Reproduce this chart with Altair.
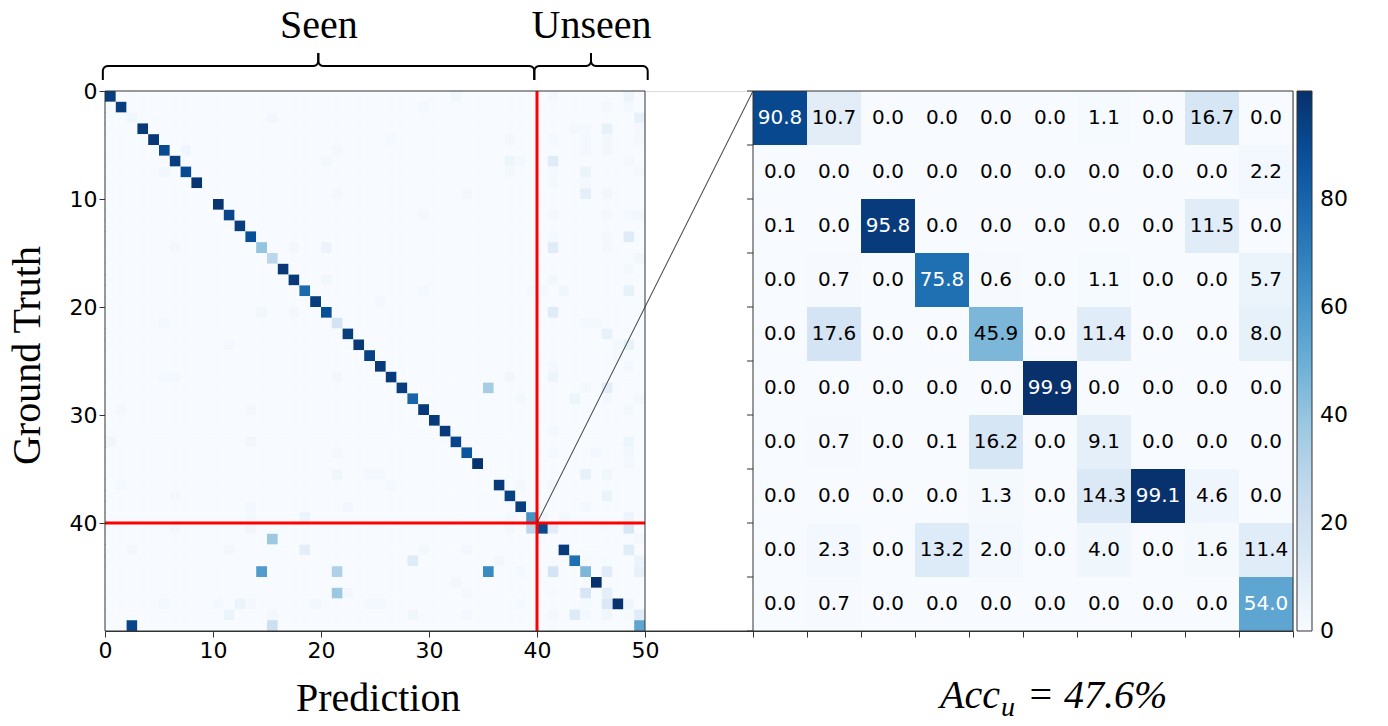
import altair as alt
import numpy as np
import pandas as pd

# ---------------- data ----------------
# diagonal of the 50x50 confusion matrix for the seen classes (rows 0-39)
diag_seen = [95, 95, 4, 97, 97, 90, 95, 90, 98, 0,
             98, 92, 95, 88, 40, 28, 97, 96, 78, 95,
             88, 18, 95, 97, 93, 96, 96, 95, 80, 96,
             96, 96, 92, 86, 99, 0, 96, 93, 95, 62]

# off-diagonal (row, col, value) entries of the 50x50 matrix (outside the zoomed block)
off_rows = [0, 0, 0, 1, 1, 1, 2, 2, 3, 3, 3, 3, 4, 4, 4, 4, 4, 4, 5, 5, 5, 5,
            6, 6, 6, 6, 6, 7, 7, 7, 7, 7, 8, 8, 9, 9, 9, 9, 11, 11, 11, 11, 11,
            13, 13, 13, 14, 14, 14, 14, 14, 15, 16, 17, 17, 18, 18, 18, 18, 18,
            19, 20, 20, 20, 21, 21, 21, 22, 23, 23, 23, 24, 25, 25,
            26, 26, 26, 26, 26, 27, 27, 27, 28, 28, 28, 28, 29, 29, 29, 31,
            32, 32, 32, 33, 33, 33, 33, 34, 35, 35, 35, 35, 35, 36, 36, 36, 36,
            37, 37, 38, 38, 38, 39, 39, 39, 39, 39, 39,
            40, 40, 40, 40, 41, 42, 42, 42, 42, 42, 43, 43, 44, 44, 44, 44, 45,
            46, 46, 46, 47, 47, 47, 47, 47, 47, 47, 47, 48, 48, 48, 48, 49, 49]
off_cols = [32, 41, 48, 29, 46, 48, 15, 49, 43, 44, 46, 49, 26, 37, 41, 44, 46, 49, 7, 21, 44, 46,
            20, 37, 38, 41, 48, 5, 37, 41, 44, 49, 41, 44, 21, 33, 44, 46, 29, 41, 46, 48, 49,
            41, 46, 48, 6, 17, 20, 41, 46, 49, 48, 20, 41, 29, 39, 40, 42, 48,
            25, 14, 17, 41, 5, 44, 45, 46, 11, 47, 48, 47, 41, 48,
            5, 6, 21, 37, 41, 35, 44, 46, 38, 43, 46, 49, 1, 13, 48, 41,
            0, 13, 48, 21, 41, 45, 48, 48, 21, 24, 25, 44, 46, 1, 26, 38, 41,
            6, 46, 13, 22, 44, 13, 18, 37, 40, 42, 48,
            6, 13, 37, 39, 15, 2, 11, 18, 29, 33, 28, 36, 14, 21, 35, 38, 32,
            21, 22, 33, 5, 10, 12, 13, 19, 24, 25, 38, 11, 15, 28, 33, 2, 15]
off_vals = [3, 2, 5, 2, 2, 2, 3, 8, 2, 2, 8, 2, 2, 2, 2, 2, 3, 2, 4, 2, 2, 3,
            2, 5, 2, 12, 2, 3, 2, 2, 6, 2, 2, 2, 2, 2, 9, 3, 2, 2, 2, 2, 3,
            2, 2, 12, 2, 2, 6, 12, 2, 3, 2, 3, 3, 2, 2, 2, 4, 8,
            2, 3, 2, 12, 2, 2, 2, 8, 2, 2, 8, 2, 2, 2,
            2, 2, 3, 3, 5, 35, 2, 10, 2, 5, 2, 2, 2, 2, 2, 2,
            4, 3, 5, 2, 2, 2, 3, 2, 4, 2, 2, 8, 4, 2, 2, 2, 3,
            2, 6, 2, 3, 2, 2, 6, 2, 4, 2, 5,
            2, 3, 2, 28, 38, 2, 2, 10, 2, 2, 12, 3, 58, 32, 65, 2, 3,
            38, 3, 2, 2, 2, 6, 2, 3, 2, 2, 2, 6, 2, 4, 2, 92, 22]

# zoomed block: unseen classes 40-49 (rows = ground truth, cols = prediction)
zoom_matrix = [
    [90.8, 10.7, 0.0, 0.0, 0.0, 0.0, 1.1, 0.0, 16.7, 0.0],
    [0.0, 0.0, 0.0, 0.0, 0.0, 0.0, 0.0, 0.0, 0.0, 2.2],
    [0.1, 0.0, 95.8, 0.0, 0.0, 0.0, 0.0, 0.0, 11.5, 0.0],
    [0.0, 0.7, 0.0, 75.8, 0.6, 0.0, 1.1, 0.0, 0.0, 5.7],
    [0.0, 17.6, 0.0, 0.0, 45.9, 0.0, 11.4, 0.0, 0.0, 8.0],
    [0.0, 0.0, 0.0, 0.0, 0.0, 99.9, 0.0, 0.0, 0.0, 0.0],
    [0.0, 0.7, 0.0, 0.1, 16.2, 0.0, 9.1, 0.0, 0.0, 0.0],
    [0.0, 0.0, 0.0, 0.0, 1.3, 0.0, 14.3, 99.1, 4.6, 0.0],
    [0.0, 2.3, 0.0, 13.2, 2.0, 0.0, 4.0, 0.0, 1.6, 11.4],
    [0.0, 0.7, 0.0, 0.0, 0.0, 0.0, 0.0, 0.0, 0.0, 54.0],
]

x_ticks_main = [0, 10, 20, 30, 40, 50]
y_ticks_main = [0, 10, 20, 30, 40]
cbar_ticks = [0, 20, 40, 60, 80]
group_labels = ["Seen", "Unseen"]
acc_text = "= 47.6%"

VMIN = -0.01
VMAX = 99.9
BLUES = ["#f7fbff", "#deebf7", "#c6dbef", "#9ecae1", "#6baed6",
         "#4292c6", "#2171b5", "#08519c", "#08306b"]

# ---------------- build tables ----------------
N = 50
N_SEEN = 40
M = np.zeros((N, N))
for i, v in enumerate(diag_seen):
    M[i, i] = v
for r, c, v in zip(off_rows, off_cols, off_vals):
    M[r, c] = v
M[N_SEEN:, N_SEEN:] = np.array(zoom_matrix)

left = pd.DataFrame([{"row": r, "col": c, "value": float(M[r, c])}
                     for r in range(N) for c in range(N)])
left["x"] = left["col"]
left["x2"] = left["col"] + 1
left["y"] = left["row"]
left["y2"] = left["row"] + 1

# zoom panel placed to the right, 10 units after the main matrix, 5 units per cell
ZX0 = 60
ZS = 5
right = pd.DataFrame([{"r": r, "c": c, "value": zoom_matrix[r][c]}
                      for r in range(10) for c in range(10)])
right["x"] = ZX0 + ZS * right["c"]
right["x2"] = right["x"] + ZS
right["y"] = ZS * right["r"]
right["y2"] = right["y"] + ZS
right["tx"] = right["x"] + ZS / 2
right["ty"] = right["y"] + ZS / 2

PX = 1 / 10.8  # data units per pixel

# ---------------- scales / axes ----------------
xs = alt.Scale(domain=[0, 110], nice=False, zero=False)
ys = alt.Scale(domain=[0, 50], nice=False, zero=False, reverse=True)
xaxis = alt.Axis(values=x_ticks_main + [ZX0 + ZS * k for k in range(11)],
                 labelExpr="datum.value <= 50 ? datum.label : ''",
                 title=None, grid=False, labelFlush=False, labelOverlap=False,
                 labelFont="DejaVu Sans", labelFontSize=22, labelColor="black",
                 tickSize=6, labelPadding=3, tickColor="#333", domainColor="#333")
yaxis = alt.Axis(values=y_ticks_main, title=None, grid=False, labelFlush=False,
                 labelOverlap=False, labelFont="DejaVu Sans", labelFontSize=22,
                 labelColor="black", tickSize=6, labelPadding=2,
                 tickColor="#333", domainColor="#333")


def X(f):
    return alt.X(f, type="quantitative", scale=xs, axis=xaxis)


def Y(f):
    return alt.Y(f, type="quantitative", scale=ys, axis=yaxis)


color_scale = alt.Scale(domain=[VMIN + (VMAX - VMIN) * i / 8 for i in range(9)],
                        range=BLUES, interpolate="rgb")
legend = alt.Legend(values=cbar_ticks, title=None, orient="right", offset=4,
                    gradientLength=540, gradientThickness=15, padding=0,
                    labelFont="DejaVu Sans", labelFontSize=22, labelColor="black",
                    labelOffset=8, labelBaseline="middle",
                    gradientStrokeColor="#333", gradientStrokeWidth=1)
color = alt.Color("value:Q", scale=color_scale, legend=legend)

# ---------------- layers ----------------
left_cells = alt.Chart(left).mark_rect().encode(
    x=X("x"), x2="x2", y=Y("y"), y2="y2", color=color)

right_cells = alt.Chart(right).mark_rect().encode(
    x=X("x"), x2="x2", y=Y("y"), y2="y2", color=color)

right_text = alt.Chart(right).mark_text(
    font="DejaVu Sans", fontSize=20, baseline="middle", align="center").encode(
    x=X("tx"), y=Y("ty"), text=alt.Text("value:Q", format=".1f"),
    color=alt.condition(alt.datum.value > 50, alt.value("white"), alt.value("black")))

frames = pd.DataFrame({"x": [0, ZX0], "x2": [N, ZX0 + 10 * ZS], "y": [0, 0], "y2": [N, 10 * ZS]})
frame_layer = alt.Chart(frames).mark_rect(fillOpacity=0, stroke="#333", strokeWidth=1).encode(
    x=X("x"), x2="x2", y=Y("y"), y2="y2")

red = pd.DataFrame({"x": [N_SEEN, 0], "x2": [N_SEEN, N], "y": [0, N_SEEN], "y2": [N, N_SEEN]})
red_layer = alt.Chart(red).mark_rule(color="#ff0000", strokeWidth=3).encode(
    x=X("x"), x2="x2", y=Y("y"), y2="y2")

conn = pd.DataFrame({"x": [N_SEEN, N], "x2": [ZX0, ZX0], "y": [N_SEEN, N], "y2": [0, 10 * ZS]})
conn_layer = alt.Chart(conn).mark_rule(color="#333", strokeWidth=1, clip=False).encode(
    x=X("x"), x2="x2", y=Y("y"), y2="y2")

lt = pd.DataFrame({"y": [ZS * k for k in range(11)]})
lt["x"] = ZX0 - 6 * PX
lt["x2"] = ZX0
ltick_layer = alt.Chart(lt).mark_rule(color="#333", strokeWidth=1, clip=False).encode(
    x=X("x"), x2="x2", y=Y("y"))


# curly braces above the main matrix
def arc(cx, cy, r, a0, a1, n=7):
    t = np.radians(np.linspace(a0, a1, n))
    return [(cx + r * np.cos(a), cy + r * np.sin(a)) for a in t]


def brace(xa, xb, xm, name):
    r = 5 * PX
    ye, yb, yt = -11 * PX, -25 * PX, -38 * PX
    left_half = [(xa, ye)] + arc(xa + r, yb + r, r, 180, 270) + \
        arc(xm - r, yb - r, r, 90, 0) + [(xm, yt)]
    right_half = [(xm, yt)] + arc(xm + r, yb - r, r, 180, 90) + \
        arc(xb - r, yb + r, r, 270, 360) + [(xb, ye)]
    rows = []
    for h, pts in (("a", left_half), ("b", right_half)):
        for i, (px_, py_) in enumerate(pts):
            rows.append({"g": name + h, "i": i, "x": px_, "y": py_})
    return rows


br = pd.DataFrame(brace(-0.2, 39.75, 19.75, "seen") + brace(39.75, 50.25, 45.0, "unseen"))
brace_layer = alt.Chart(br).mark_line(color="black", strokeWidth=2, clip=False).encode(
    x=X("x"), y=Y("y"), detail="g:N", order="i:Q")

ann = pd.DataFrame({"text": group_labels + ["Prediction"],
                    "x": [19.8, 45.05, 25.3], "y": [-4.91, -4.91, 57.4]})
ann_layer = alt.Chart(ann).mark_text(
    font="Liberation Serif", fontSize=40, baseline="alphabetic", align="center",
    color="black", clip=False).encode(x=X("x"), y=Y("y"), text="text:N")

gt = pd.DataFrame({"text": ["Ground Truth"], "x": [-7.13], "y": [24.5]})
gt_layer = alt.Chart(gt).mark_text(
    font="Liberation Serif", fontSize=40, baseline="middle", align="center",
    angle=270, color="black", clip=False).encode(x=X("x"), y=Y("y"), text="text:N")

acc = pd.DataFrame({"text": ["Acc", acc_text], "x": [77.31, 85.37], "y": [57.13, 57.13]})
acc_layer = alt.Chart(acc).mark_text(
    font="Liberation Serif", fontSize=40, fontStyle="italic", baseline="alphabetic",
    align="left", color="black", clip=False).encode(x=X("x"), y=Y("y"), text="text:N")

sub = pd.DataFrame({"text": ["u"], "x": [82.96], "y": [57.87]})
sub_layer = alt.Chart(sub).mark_text(
    font="Liberation Serif", fontSize=28, fontStyle="italic", baseline="alphabetic",
    align="left", color="black", clip=False).encode(x=X("x"), y=Y("y"), text="text:N")

chart = alt.layer(
    left_cells, right_cells, right_text, red_layer, frame_layer, conn_layer,
    ltick_layer, brace_layer, ann_layer, gt_layer, acc_layer, sub_layer
).properties(
    width=1188, height=540,
    padding={"left": 97, "top": 83, "right": 87, "bottom": 87},
    autosize=alt.AutoSizeParams(type="none"),
).configure_view(strokeWidth=0).configure(background="white")

chart.save("out.html", embed_options={"renderer": "svg", "actions": False})
